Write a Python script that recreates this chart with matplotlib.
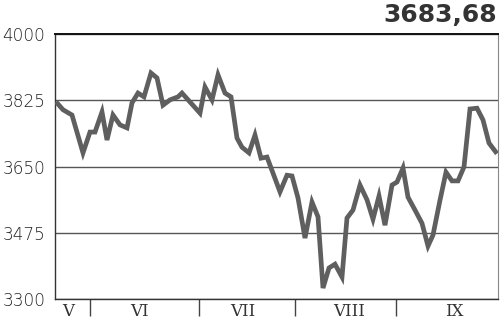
import matplotlib.pyplot as plt

# Pozycje w czasie (jednostki osi: dni od początku okresu) i wartości indeksu
days = [1, 8, 17, 28, 35, 40, 47, 52, 58, 65, 72, 77, 83, 89, 96, 102, 108, 115,
        123, 127, 145, 150, 157, 163, 170, 176, 182, 187, 194, 200, 206, 212,
        225, 232, 237, 243, 250, 257, 263, 268, 274, 280, 287, 292, 298, 305,
        312, 318, 324, 330, 337, 342, 348, 353, 360, 367, 373, 378, 385, 391,
        397, 403, 409, 415, 422, 428, 434, 442]
values = [3821, 3800, 3786, 3686, 3741, 3741, 3794, 3720, 3786, 3760, 3752,
          3818, 3844, 3834, 3897, 3884, 3812, 3826, 3834, 3844, 3791, 3860,
          3826, 3892, 3844, 3834, 3725, 3701, 3686, 3733, 3672, 3675, 3583,
          3627, 3625, 3567, 3461, 3556, 3517, 3329, 3382, 3392, 3358, 3514,
          3535, 3601, 3562, 3511, 3572, 3495, 3601, 3609, 3646, 3569, 3535,
          3500, 3440, 3469, 3561, 3635, 3612, 3612, 3649, 3802, 3804, 3773,
          3712, 3684]

months = ["V", "VI", "VII", "VIII", "IX"]
month_centers = [13, 84, 188, 294, 399]
month_bounds = [35, 144, 240, 341]
y_ticks = [3300, 3475, 3650, 3825, 4000]
last_value = "3683,68"


def plot_chart():
    fig = plt.figure(figsize=(5, 3.27), dpi=100)
    ax = fig.add_axes([0.11, 0.0856, 0.886, 0.8104])

    ax.plot(days, values, color="#5f5f5f", linewidth=3.4,
            solid_joinstyle="miter", solid_capstyle="butt", zorder=3)

    ax.set_xlim(0, 443)
    ax.set_ylim(3300, 4000)

    # Siatka pozioma
    ax.set_yticks(y_ticks)
    ax.set_yticklabels([str(v) for v in y_ticks], fontsize=12.2,
                       color="#222222", fontweight="light")
    ax.yaxis.grid(True, color="#555555", linewidth=1.0)
    ax.tick_params(axis="y", length=0, pad=7)

    # Miesiące
    ax.set_xticks(month_centers)
    ax.set_xticklabels(months, fontsize=12, family="DejaVu Serif",
                       color="#333333")
    ax.set_xticks(month_bounds, minor=True)
    ax.tick_params(axis="x", which="major", length=0, pad=3)
    ax.tick_params(axis="x", which="minor", length=12, width=1,
                   color="#444444", direction="out")

    for side in ["left", "bottom", "top"]:
        ax.spines[side].set_color("#333333")
        ax.spines[side].set_linewidth(1.0)
    ax.spines["top"].set_linewidth(1.4)
    ax.spines["top"].set_color("#111111")
    ax.spines["right"].set_color("#888888")
    ax.spines["right"].set_linewidth(0.8)

    fig.text(0.994, 0.99, last_value, ha="right", va="top", fontsize=18,
             fontweight="bold", color="#333333")

    fig.savefig("out.png", dpi=100)


if __name__ == "__main__":
    plot_chart()
